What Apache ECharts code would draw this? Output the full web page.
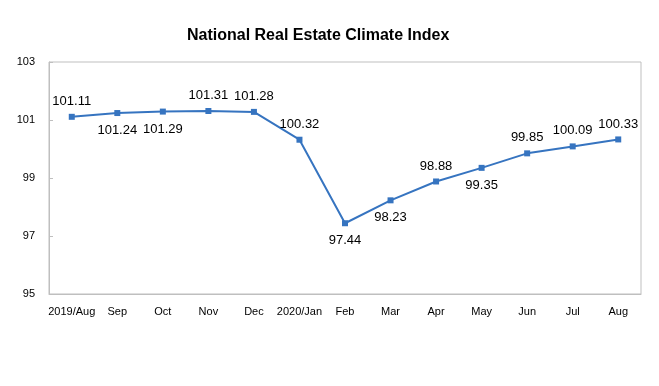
<!DOCTYPE html>
<html><head><meta charset="utf-8">
<script src="https://cdn.jsdelivr.net/npm/echarts@6/dist/echarts.min.js"></script>
<style>html,body{margin:0;padding:0;background:#fff}#c{width:659px;height:386px}</style>
</head><body><div id="c"></div>
<script>
var categories = ['2019/Aug','Sep','Oct','Nov','Dec','2020/Jan','Feb','Mar','Apr','May','Jun','Jul','Aug'];
var values = [101.11,101.24,101.29,101.31,101.28,100.32,97.44,98.23,98.88,99.35,99.85,100.09,100.33];
var labelPos = ['top','bottom','bottom','top','top','top','bottom','bottom','top','bottom','top','top','top'];
var yTicks = [95,97,99,101,103];

var chart = echarts.init(document.getElementById('c'));
chart.setOption({
  animation:false,
  title:{text:'National Real Estate Climate Index',left:182,top:23,
    textStyle:{fontFamily:'Liberation Sans, Arial',fontSize:16,fontWeight:'bold',color:'#000'}},
  grid:{left:49,right:18,top:62,bottom:92,show:true,borderColor:'#bfbfbf',borderWidth:1},
  xAxis:{type:'category',data:categories,boundaryGap:true,
    axisLine:{lineStyle:{color:'#bfbfbf'}},
    axisTick:{inside:true,length:4,lineStyle:{color:'#bfbfbf'}},
    axisLabel:{interval:0,color:'#000',fontFamily:'Liberation Sans, Arial',fontSize:11,margin:12}},
  yAxis:{type:'value',min:95,max:103,interval:2,
    axisLine:{show:true,lineStyle:{color:'#bfbfbf'}},
    axisTick:{show:true,inside:true,length:4,lineStyle:{color:'#bfbfbf'}},
    splitLine:{show:false},
    axisLabel:{color:'#000',fontFamily:'Liberation Sans, Arial',fontSize:11,margin:14,
      formatter:function(v){return yTicks.indexOf(v)>=0?String(v):'';}}},
  series:[{type:'line',symbol:'rect',symbolSize:6,
    data:values.map(function(v,i){return {value:v,label:{position:labelPos[i],distance:labelPos[i]==='top'?6:8}};}),
    lineStyle:{color:'#3674c0',width:2},itemStyle:{color:'#3674c0'},
    label:{show:true,color:'#000',fontFamily:'Liberation Sans, Arial',fontSize:13,
      formatter:function(p){return p.value.toFixed(2);}}}]
});
</script></body></html>
